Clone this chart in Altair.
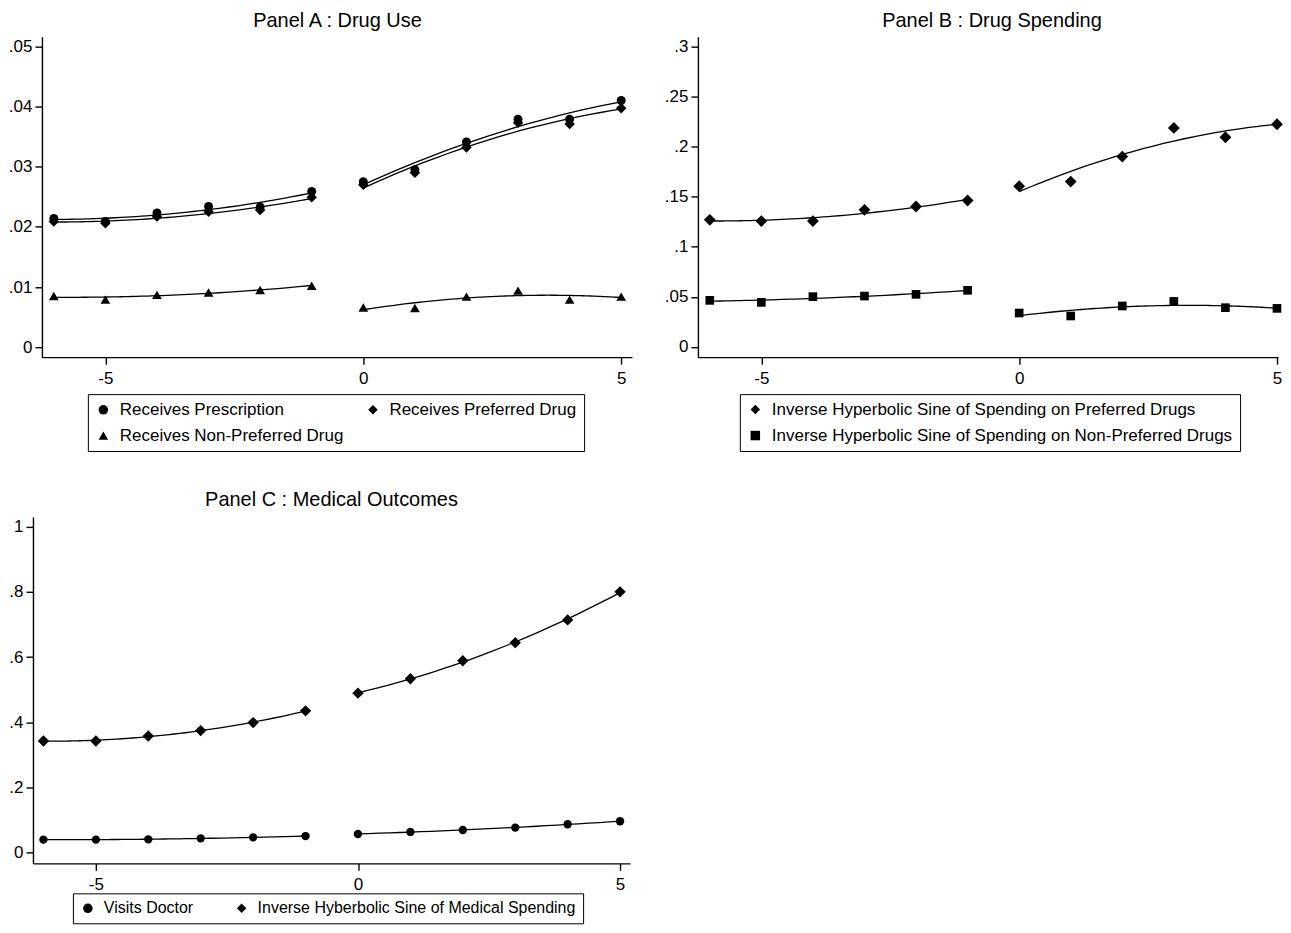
import altair as alt
import pandas as pd

# ---------------- data ----------------
x_vals = [-6, -5, -4, -3, -2, -1, 0, 1, 2, 3, 4, 5]

# Panel A : Drug Use
a_prescription = [0.0214, 0.0209, 0.0223, 0.0234, 0.0233, 0.0259,
                  0.0275, 0.0295, 0.0341, 0.0379, 0.0379, 0.0410]
a_preferred = [0.0209, 0.0206, 0.0217, 0.0225, 0.0228, 0.0249,
               0.0270, 0.0290, 0.0332, 0.0373, 0.0371, 0.0397]
a_nonpreferred = [0.0085, 0.0079, 0.0087, 0.0091, 0.0095, 0.0102,
                  0.0066, 0.0065, 0.0084, 0.0094, 0.0079, 0.0084]

# Panel B : Drug Spending
b_preferred = [0.1269, 0.1256, 0.1256, 0.1369, 0.1402, 0.1462,
               0.1605, 0.1651, 0.1900, 0.2186, 0.2093, 0.2223]
b_nonpreferred = [0.0465, 0.0445, 0.0502, 0.0508, 0.0525, 0.0565,
                  0.0339, 0.0309, 0.0409, 0.0455, 0.0392, 0.0385]

# Panel C : Medical Outcomes
c_doctor = [0.040, 0.040, 0.041, 0.044, 0.047, 0.051,
            0.0574, 0.0636, 0.0697, 0.0769, 0.0872, 0.0964]
c_medical = [0.3426, 0.3426, 0.3580, 0.3744, 0.3990, 0.4349,
             0.4892, 0.5333, 0.5887, 0.6441, 0.7138, 0.8000]

# legend order (column-major in a 2-column legend)
names_a = ["Receives Prescription", "Receives Non-Preferred Drug", "Receives Preferred Drug"]
names_b = ["Inverse Hyperbolic Sine of Spending on Preferred Drugs",
           "Inverse Hyperbolic Sine of Spending on Non-Preferred Drugs"]
names_c = ["Visits Doctor", "Inverse Hyberbolic Sine of Medical Spending"]

ticks_a = [0, 0.01, 0.02, 0.03, 0.04, 0.05]
ticks_b = [0, 0.05, 0.1, 0.15, 0.2, 0.25, 0.3]
ticks_c = [0, 0.2, 0.4, 0.6, 0.8, 1]
x_ticks = [-5, 0, 5]


def make_df(names, series_list):
    rows = []
    for name, vals in zip(names, series_list):
        for xv, yv in zip(x_vals, vals):
            rows.append({"x": xv, "y": yv, "series": name,
                         "side": "pre" if xv < 0 else "post"})
    return pd.DataFrame(rows)


df_a = make_df(names_a, [a_prescription, a_nonpreferred, a_preferred])
df_b = make_df(names_b, [b_preferred, b_nonpreferred])
df_c = make_df(names_c, [c_doctor, c_medical])

FONT = "Liberation Sans"
YLABEL = ("datum.value == 0 ? '0' : (datum.value < 1 ? "
          "slice(toString(datum.value), 1) : toString(datum.value))")


def size_rule(names, sizes):
    rule = alt.when(alt.datum.series == names[0]).then(alt.value(sizes[0]))
    for n, s in zip(names[1:-1], sizes[1:-1]):
        rule = rule.when(alt.datum.series == n).then(alt.value(s))
    return rule.otherwise(alt.value(sizes[-1]))


def panel(df, title, names, shapes, sizes, ydom, yticks, xdom, w, h,
          legx, legy, cols, colpad, legpad, legfont,
          xrange=None, yoffset=0, tdx=0, toff=7):
    base = alt.Chart(df)
    if xrange is None:
        xscale = alt.Scale(domain=xdom, nice=False, zero=False)
    else:
        xscale = alt.Scale(domain=xdom, range=xrange, nice=False, zero=False)
    xenc = alt.X("x:Q", scale=xscale,
                 axis=alt.Axis(values=x_ticks, labelExpr="toString(datum.value)",
                               title=None))
    yenc = alt.Y("y:Q", scale=alt.Scale(domain=ydom, nice=False, zero=False),
                 axis=alt.Axis(values=yticks, labelExpr=YLABEL, title=None,
                               offset=yoffset))
    pts = base.mark_point(filled=True, opacity=1, color="black").encode(
        x=xenc, y=yenc,
        shape=alt.Shape("series:N", scale=alt.Scale(domain=names, range=shapes),
                        legend=alt.Legend(
                            orient="none", legendX=legx, legendY=legy,
                            title=None, columns=cols, columnPadding=colpad,
                            rowPadding=8, padding=legpad, strokeColor="black",
                            fillColor="white", labelFont=FONT, labelFontSize=legfont,
                            labelColor="black", labelLimit=800, labelOffset=8,
                            symbolSize=90, symbolFillColor="black",
                            symbolStrokeColor="black", symbolOpacity=1,
                            symbolStrokeWidth=0)),
        size=size_rule(names, sizes),
    )
    fit = base.transform_regression(
        "x", "y", method="poly", order=2, groupby=["series", "side"]
    ).mark_line(color="black", strokeWidth=1.3).encode(
        x=xenc, y=yenc, detail=["series:N", "side:N"])
    return alt.layer(fit, pts).properties(
        width=w, height=h,
        title=alt.TitleParams(title, fontSize=20, font=FONT, fontWeight="normal",
                              color="black", offset=toff, anchor="middle", dx=tdx),
    )


pa = panel(df_a, "Panel A : Drug Use", names_a, ["circle", "triangle-up", "diamond"],
           [80, 95, 110], [-0.00166, 0.05161], ticks_a, [-6.23, 5.21], 600, 321,
           55, 358, 2, 21, 7, 17, xrange=[9, 600], yoffset=-9, tdx=5, toff=6)
pb = panel(df_b, "Panel B : Drug Spending", names_b, ["diamond", "square"],
           [140, 75], [-0.0102, 0.3097], ticks_b, [-6.23, 5.02], 581, 321,
           42, 358, 1, 20, 7, 17, tdx=4, toff=6)
pc = panel(df_c, "Panel C : Medical Outcomes", names_c, ["circle", "diamond"],
           [70, 130], [-0.0328, 1.0297], ticks_c, [-6.2, 5.19], 598, 347,
           40, 377, 2, 40, 7, 16, toff=7)

top = alt.hconcat(pa, pb, spacing=32).resolve_scale(
    shape="independent", x="independent", y="independent"
).resolve_legend(shape="independent")

chart = alt.vconcat(top, pc, spacing=38).resolve_scale(
    shape="independent", x="independent", y="independent"
).resolve_legend(shape="independent").properties(
    padding={"top": 2, "left": 0, "right": 0, "bottom": 0}
).configure_view(stroke=None).configure_axis(
    grid=False, domainColor="black", domainWidth=1.4, tickColor="black",
    tickWidth=1.4, tickSize=7, labelColor="black", labelFont=FONT,
    labelFontSize=17, labelPadding=3
).configure_axisX(labelPadding=6).configure_axisY(labelPadding=3)

chart.save("out.html", embed_options={"renderer": "svg", "actions": False})
